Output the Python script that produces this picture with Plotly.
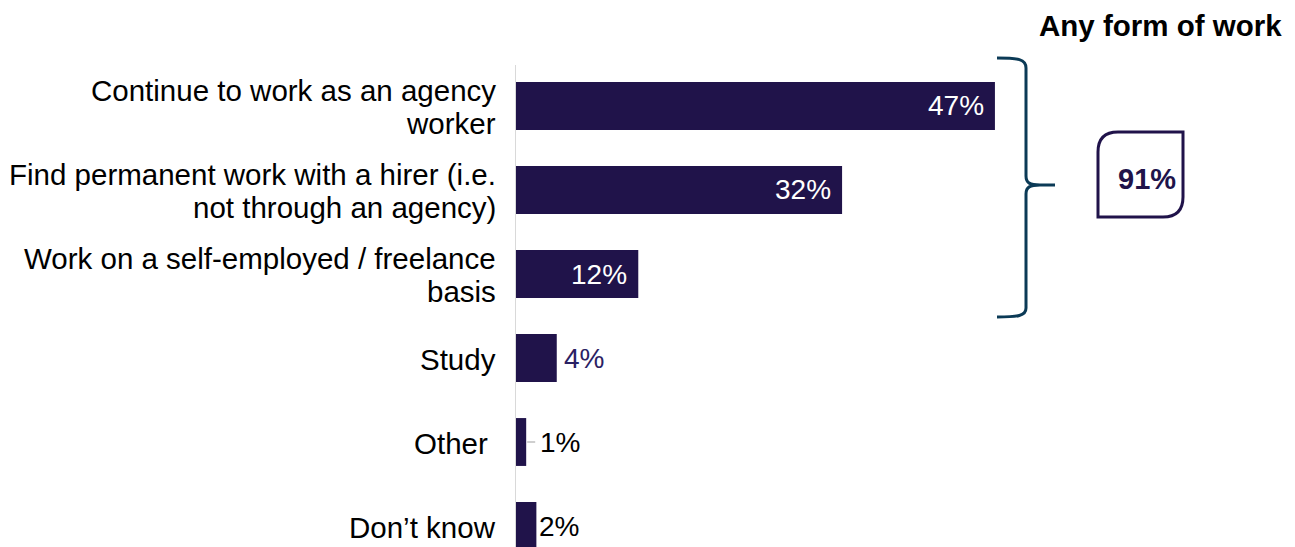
import plotly.graph_objects as go

# ---- data -------------------------------------------------------------
categories = [
    "Continue to work as an agency<br>worker",
    "Find permanent work with a hirer (i.e.<br>not through an agency)",
    "Work on a self-employed / freelance<br>basis",
    "Study",
    "Other",
    "Don\u2019t know",
]
values = [47, 32, 12, 4, 1, 2]
group_title = "Any form of work"
group_members = 3                      # first three answers are forms of work
group_total = sum(values[:group_members])

# ---- styling ----------------------------------------------------------
W, H = 1295, 547
ML, MR, MT, MB = 516, 0, 65, 0
BAR = "#20134A"
BRACKET = "#0B3A56"
FONT = "Arial, Liberation Sans, sans-serif"
PX_PER_PCT = 10.19

plot_w = W - ML - MR
plot_h = H - MT - MB


def px(x):
    return (x - ML) / plot_w


def py(y):
    return (H - MB - y) / plot_h


idx = list(range(len(categories)))

fig = go.Figure(
    go.Bar(
        x=values,
        y=idx,
        orientation="h",
        marker=dict(color=BAR, line=dict(width=0)),
        hoverinfo="skip",
    )
)

annotations = []
shapes = []

# category labels, one annotation per line for tight line spacing
LINE_H = 33
for i, cat in enumerate(categories):
    lines = cat.split("<br>")
    n = len(lines)
    for k, line in enumerate(lines):
        if line == "Other":
            line = "Other\u00a0"
        annotations.append(dict(
            x=px(498), xref="paper", y=i, yref="y",
            xanchor="right", yanchor="middle",
            yshift=((n - 1) / 2 - k) * LINE_H - 1,
            text=line, showarrow=False,
            font=dict(family=FONT, size=29.5, color="#000000"),
        ))

# value labels
outside = {3: (5, "#2B2163"), 4: (12, "#000000"), 5: (1, "#000000")}
for i, v in enumerate(values):
    if i in outside:
        shift, col = outside[i]
        annotations.append(dict(
            x=v, xref="x", y=i, yref="y", xanchor="left", yanchor="middle",
            xshift=shift, text=f"{v}%", showarrow=False,
            font=dict(family=FONT, size=28, color=col),
        ))
    else:
        annotations.append(dict(
            x=v, xref="x", y=i, yref="y", xanchor="right", yanchor="middle",
            xshift=-9, text=f"{v}%", showarrow=False,
            font=dict(family=FONT, size=28, color="#FFFFFF"),
        ))

# short leader line for the small "Other" bar
shapes.append(dict(
    type="line", xref="x", yref="y", xsizemode="pixel", xanchor=values[4],
    x0=1, x1=9, y0=4, y1=4, line=dict(color="#BFBFBF", width=1.5),
))

# curly bracket grouping the work answers
bracket = (
    f"M {px(997)},{py(58)} C {px(1018)},{py(58)} {px(1026)},{py(59)} {px(1026)},{py(68)} "
    f"L {px(1026)},{py(176)} C {px(1026)},{py(183)} {px(1030)},{py(185)} {px(1040)},{py(185)} "
    f"L {px(1055)},{py(185)} "
    f"M {px(1040)},{py(185)} C {px(1030)},{py(185)} {px(1026)},{py(187)} {px(1026)},{py(194)} "
    f"L {px(1026)},{py(308)} C {px(1026)},{py(316)} {px(1018)},{py(317)} {px(997)},{py(317)}"
)
shapes.append(dict(type="path", xref="paper", yref="paper", path=bracket,
                   line=dict(color=BRACKET, width=3)))

# leaf-shaped box holding the group total
r = 20
x0b, x1b, y0b, y1b = 1098, 1183, 132, 217
leaf = (
    f"M {px(x0b)},{py(y1b)} L {px(x0b)},{py(y0b + r)} "
    f"Q {px(x0b)},{py(y0b)} {px(x0b + r)},{py(y0b)} "
    f"L {px(x1b)},{py(y0b)} L {px(x1b)},{py(y1b - r)} "
    f"Q {px(x1b)},{py(y1b)} {px(x1b - r)},{py(y1b)} Z"
)
shapes.append(dict(type="path", xref="paper", yref="paper", path=leaf,
                   line=dict(color=BAR, width=3), fillcolor="rgba(0,0,0,0)"))

annotations.append(dict(
    x=px(1147), y=py(179), xref="paper", yref="paper",
    xanchor="center", yanchor="middle", text=f"<b>{group_total}%</b>",
    showarrow=False, font=dict(family=FONT, size=29, color=BAR),
))

annotations.append(dict(
    x=px(1284), y=py(25), xref="paper", yref="paper",
    xanchor="right", yanchor="middle", text=f"<b>{group_title}</b>",
    showarrow=False, font=dict(family=FONT, size=29.5, color="#000000"),
))

fig.update_layout(
    width=W, height=H,
    margin=dict(l=ML, r=MR, t=MT, b=MB, pad=0),
    paper_bgcolor="white", plot_bgcolor="white",
    bargap=0.43,
    showlegend=False,
    annotations=annotations,
    shapes=shapes,
    xaxis=dict(range=[0, plot_w / PX_PER_PCT], visible=False, fixedrange=True),
    yaxis=dict(
        range=[len(categories) - 0.75, -0.488],
        showticklabels=False, ticks="", showgrid=False, zeroline=False,
        showline=True, linecolor="#D9D9D9", linewidth=1, fixedrange=True,
    ),
)

fig.write_html("out.html", config={"displayModeBar": False})
